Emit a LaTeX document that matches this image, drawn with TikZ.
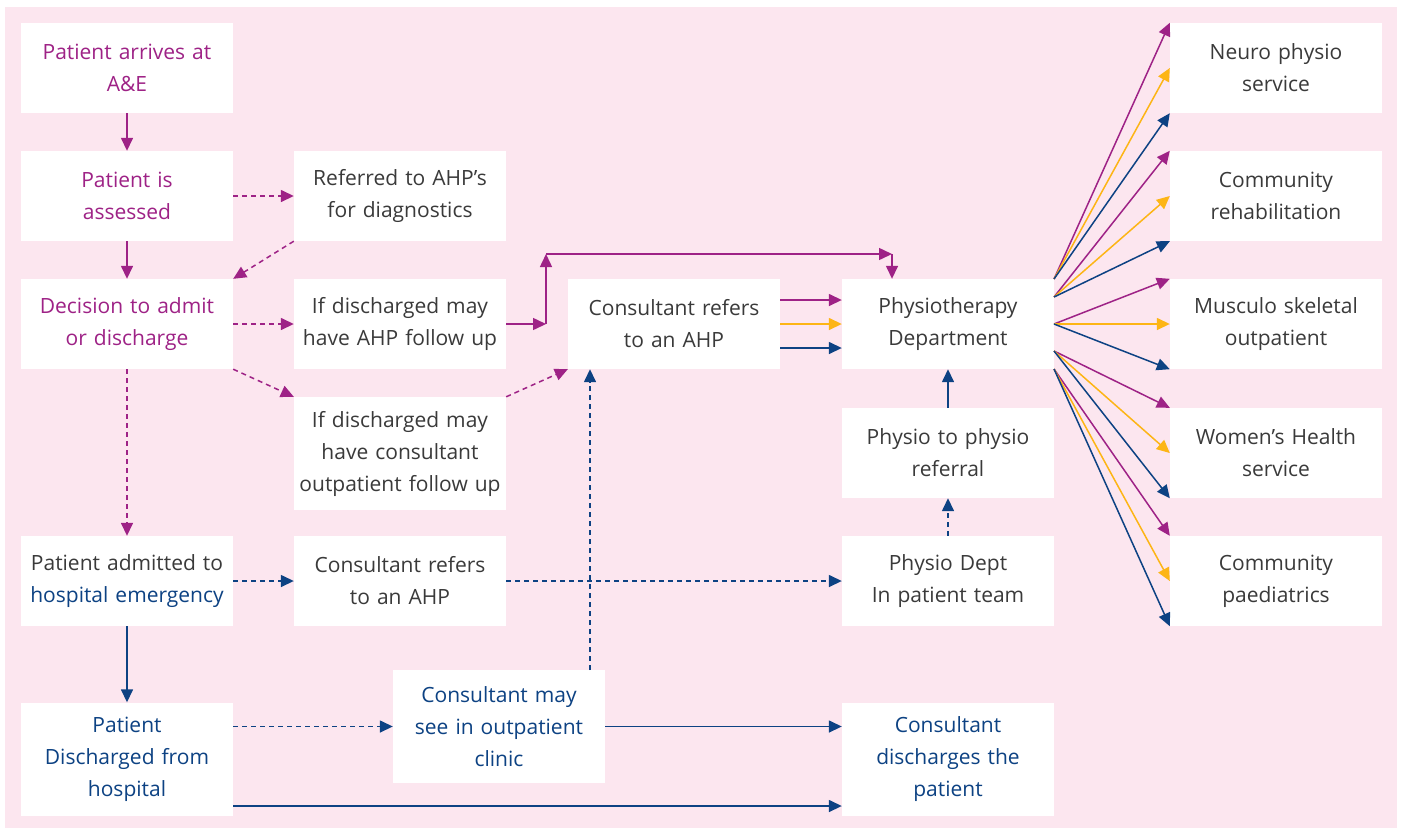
\documentclass[tikz,border=0pt]{standalone}
\usepackage{fontspec}
\setmainfont{Open Sans}
\usetikzlibrary{arrows.meta}
\definecolor{bgpink}{HTML}{FCE6EF}
\definecolor{pk}{HTML}{9E2286}
\definecolor{bl}{HTML}{0D4283}
\definecolor{og}{HTML}{FDB515}
\definecolor{txtgrey}{HTML}{3A3A3A}

\begin{document}
\begin{tikzpicture}[x=1pt,y=-1pt]
	\tikzstyle{box} = [fill=white,minimum width=212pt,minimum height=90pt,inner sep=0pt,text width=210pt,align=center,font=\fontsize{21}{32}\selectfont,text=txtgrey]
	\tikzstyle{tall} = [box,minimum height=113pt]
	\tikzstyle{link} = [line width=1.5pt,-{Triangle[length=13pt,width=12pt]}]
	\tikzstyle{broken} = [dash pattern=on 5pt off 4pt]

	\fill[bgpink] (5,7) rectangle (1397,828);
	\useasboundingbox (0,0) rectangle (1402,828);

	\node[box,text=pk] at (127,68) (arrive) {Patient arrives at\\A\&E};
	\node[box,text=pk] at (127,196) (assess) {Patient is\\assessed};
	\node[box,text=pk] at (127,324) (decide) {Decision to admit\\or discharge};
	\node[box] at (127,581) (admit) {Patient admitted to\\\textcolor{bl}{hospital emergency}};
	\node[tall,text=bl] at (127,759) (disch) {Patient\\Discharged from\\hospital};

	\node[box] at (400,196) (referred) {Referred to AHP’s\\for diagnostics};
	\node[box] at (400,324) (ahpfollow) {If discharged may\\have AHP follow up};
	\node[tall] at (400,453.5) (opfollow) {If discharged may\\have consultant\\outpatient follow up};
	\node[box] at (400,581) (refer2) {Consultant refers\\to an AHP};
	\node[tall,text=bl] at (499,726.5) (clinic) {Consultant may\\see in outpatient\\clinic};

	\node[box] at (674,324) (refer1) {Consultant refers\\to an AHP};

	\node[box] at (948,324) (physio) {Physiotherapy\\Department};
	\node[box] at (948,453) (p2p) {Physio to physio\\referral};
	\node[box] at (948,581) (inpat) {Physio Dept\\In patient team};
	\node[tall,text=bl] at (948,759) (cdis) {Consultant\\discharges the\\patient};

	\node[box] at (1276,68) (neuro) {Neuro physio\\service};
	\node[box] at (1276,196) (rehab) {Community\\rehabilitation};
	\node[box] at (1276,324) (msk) {Musculo skeletal\\outpatient};
	\node[box] at (1276,453) (women) {Women’s Health\\service};
	\node[box] at (1276,581) (paeds) {Community\\paediatrics};

	\coordinate (j1) at (546,324);
	\coordinate (j2) at (546,254);
	\coordinate (j3) at (892,254);
	\coordinate (up) at (590,670);
	\coordinate (f1) at (1054,279);
	\coordinate (f2) at (1054,297);
	\coordinate (f3) at (1054,324);
	\coordinate (f4) at (1054,351);
	\coordinate (f5) at (1054,369);

	\begin{scope}[link,pk]
		\draw (arrive) -- (assess);
		\draw (assess) -- (decide);
		\draw (ahpfollow) -- (j1);
		\draw (j1) -- (j2);
		\draw (j2) -- (j3);
		\draw (j3) -- (j3 |- physio.north);
		\draw ([yshift=24pt]refer1.east) -- ([yshift=24pt]physio.west);
		\draw[broken] (assess) -- (referred);
		\draw[broken] (referred.south west) -- (decide.north east);
		\draw[broken] (decide) -- (ahpfollow);
		\draw[broken] (decide.south east) -- (opfollow.north west);
		\draw[broken] (decide) -- (admit);
		\draw[broken] (opfollow.north east) -- (refer1.south west);
		\draw (f1) -- (neuro.north west);
		\draw (f2) -- (rehab.north west);
		\draw (f3) -- (msk.north west);
		\draw (f4) -- (women.north west);
		\draw (f5) -- (paeds.north west);
	\end{scope}

	\begin{scope}[link,og]
		\draw (refer1) -- (physio);
		\draw (f1) -- (neuro.west);
		\draw (f2) -- (rehab.west);
		\draw (f3) -- (msk.west);
		\draw (f4) -- (women.west);
		\draw (f5) -- (paeds.west);
	\end{scope}

	\begin{scope}[link,bl]
		\draw ([yshift=-24pt]refer1.east) -- ([yshift=-24pt]physio.west);
		\draw (admit) -- (disch);
		\draw (p2p) -- (physio);
		\draw (clinic.east) -- (clinic.east -| cdis.west);
		\draw ([yshift=-47pt]disch.east) -- ([yshift=-47pt]disch.east -| cdis.west);
		\draw[broken] (admit) -- (refer2);
		\draw[broken] (refer2) -- (inpat);
		\draw[broken] (inpat) -- (p2p);
		\draw[broken] (disch.east |- clinic.west) -- (clinic.west);
		\draw[broken] (up) -- (up |- refer1.south);
		\draw (f1) -- (neuro.south west);
		\draw (f2) -- (rehab.south west);
		\draw (f3) -- (msk.south west);
		\draw (f4) -- (women.south west);
		\draw (f5) -- (paeds.south west);
	\end{scope}
\end{tikzpicture}
\end{document}
